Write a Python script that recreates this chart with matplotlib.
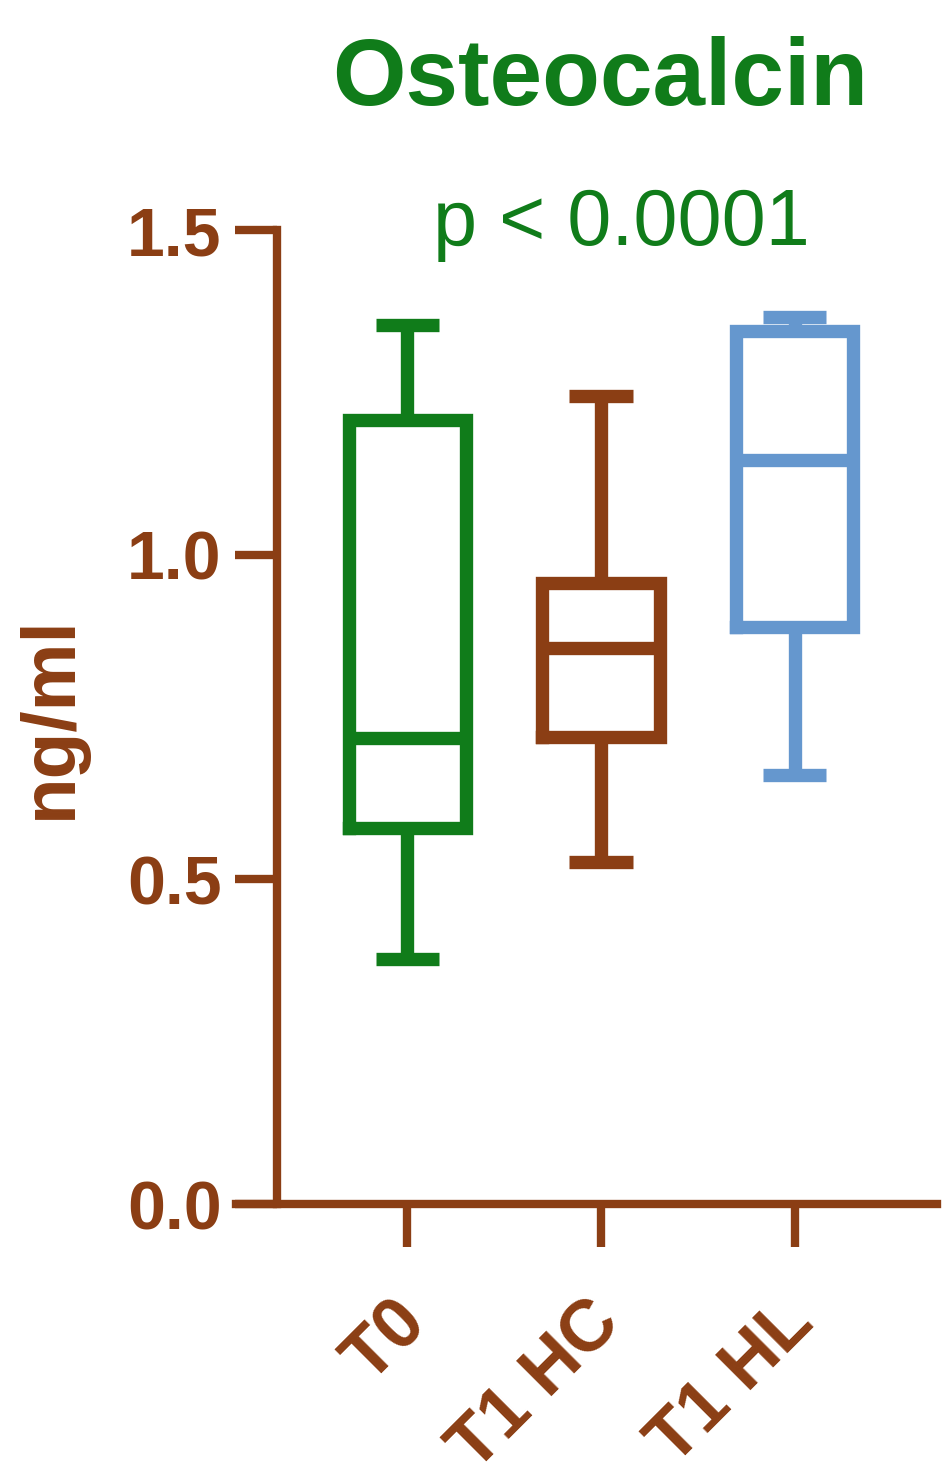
import matplotlib
matplotlib.use('Agg')
import matplotlib.pyplot as plt
from matplotlib.transforms import ScaledTranslation

plt.rcParams['font.family'] = ['Liberation Sans', 'DejaVu Sans']

groups = ['T0', 'T1 HC', 'T1 HL']
whislo = [0.377, 0.527, 0.661]
q1 = [0.579, 0.719, 0.889]
med = [0.718, 0.856, 1.146]
q3 = [1.207, 0.956, 1.344]
whishi = [1.354, 1.244, 1.366]
yticks = [0.0, 0.5, 1.0, 1.5]
ytick_labels = ['0.0', '0.5', '1.0', '1.5']

GREEN = '#107C1A'
BROWN = '#8B3E14'
BLUE = '#6597CE'
box_colors = [GREEN, BROWN, BLUE]

W, H = 945, 1483
fig = plt.figure(figsize=(W / 100, H / 100), dpi=100)
ax = fig.add_axes([236 / W, (H - 1204) / H, (937 - 236) / W, (1204 - 230) / H])

stats = []
for i, g in enumerate(groups):
    stats.append(dict(label=g, whislo=whislo[i], q1=q1[i], med=med[i],
                      q3=q3[i], whishi=whishi[i], fliers=[]))

lw = 9.6
res = ax.bxp(stats, positions=[1, 2, 3], widths=0.605, capwidths=0.33,
             showfliers=False,
             boxprops=dict(linewidth=lw, solid_joinstyle='miter'),
             medianprops=dict(linewidth=lw, solid_capstyle='butt'),
             whiskerprops=dict(linewidth=lw, solid_capstyle='butt'),
             capprops=dict(linewidth=lw, solid_capstyle='butt'))
for i, c in enumerate(box_colors):
    res['boxes'][i].set_color(c)
    res['medians'][i].set_color(c)
    for k in (2 * i, 2 * i + 1):
        res['whiskers'][k].set_color(c)
        res['caps'][k].set_color(c)

ax.set_xlim(0.114, 3.736)
ax.set_ylim(0, 1.5)
for s in ('top', 'right'):
    ax.spines[s].set_visible(False)
ax.spines['left'].set_position(('data', 0.326))
ax.spines['left'].set_bounds(0, 1.5)
for s in ('left', 'bottom'):
    ax.spines[s].set_color(BROWN)
    ax.spines[s].set_linewidth(6)
    ax.spines[s].set_capstyle('projecting')

ax.set_yticks(yticks)
ax.set_yticklabels(ytick_labels, fontsize=49, fontweight='bold', color=BROWN)
ax.set_xticks([1, 2, 3])
ax.set_xticklabels(groups, fontsize=52, fontweight='bold', color=BROWN,
                   rotation=45, ha='right', va='top', rotation_mode='anchor')
ax.tick_params(axis='y', length=30, width=6, color=BROWN, pad=10)
ax.tick_params(axis='x', length=31, width=6, color=BROWN, pad=29)
shift = ScaledTranslation(-16 / 100, 0, fig.dpi_scale_trans)
for lbl in ax.get_xticklabels():
    lbl.set_transform(lbl.get_transform() + shift)
ax.patch.set_alpha(0)

fig.text(600 / W, 1 - 105 / H, 'Osteocalcin', ha='center', va='baseline',
         fontsize=68, fontweight='bold', color=GREEN)
fig.text(621 / W, 1 - 245 / H, 'p < 0.0001', ha='center', va='baseline',
         fontsize=57, color=GREEN)
fig.text(51 / W, 1 - 717 / H, 'ng/ml', rotation=90, ha='center', va='center',
         fontsize=55, fontweight='bold', color=BROWN)

fig.savefig('out.png', dpi=100)
